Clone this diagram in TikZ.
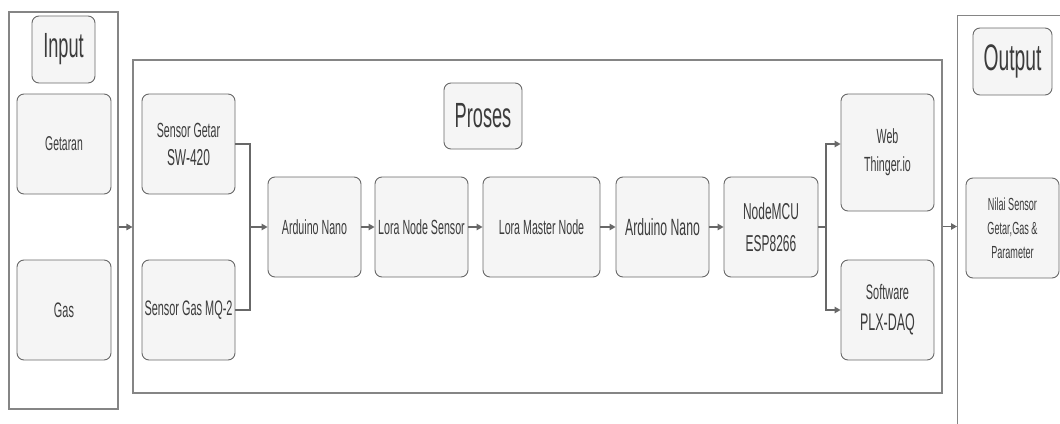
\documentclass[tikz,border=0pt]{standalone}
\usepackage{fontspec}
\setmainfont{Liberation Sans}[FakeStretch=0.52]
\usetikzlibrary{arrows.meta}
\definecolor{garis}{HTML}{686868}
\definecolor{wadahc}{HTML}{858585}
\definecolor{isi}{HTML}{F5F5F5}
\definecolor{teks}{HTML}{3C3C3C}
\newcommand{\uk}[2]{\fontsize{#1}{#2}\selectfont}

\begin{document}
\begin{tikzpicture}[x=1pt,y=-1pt,
    blok/.style={draw=garis,fill=isi,rounded corners=7pt,line width=0.9pt,
        minimum width=93pt,minimum height=100pt,align=center,text=teks,
        inner sep=1pt,font=\uk{20.5}{28}},
    judul/.style={blok,minimum width=63pt,minimum height=67pt,font=\uk{35}{40}},
    wadah/.style={draw=wadahc,line width=1.1pt,inner sep=0pt},
    garisb/.style={draw=garis,line width=1.1pt},
    arr/.style={garisb,-{Triangle[length=6pt,width=6.5pt]}}]
\useasboundingbox (0,0) rectangle (1060,423);

% kotak besar
\node[wadah,minimum width=109pt,minimum height=397pt] (masukan) at (63.5,210.5) {};
\node[wadah,minimum width=809pt,minimum height=333pt] (proses) at (537.5,226.5) {};
\node[wadah,minimum width=125pt,minimum height=430pt,anchor=north west] (keluaran) at (957,15) {};

% input
\node[judul] (jinput) at (63.5,49.5) {Input};
\node[blok,minimum width=94pt,font=\uk{20}{28}] (getaran) at (64,144) {Getaran};
\node[blok,minimum width=94pt,font=\uk{21}{28}] (gas) at (64,310) {Gas};

% proses
\node[judul,minimum width=78pt,minimum height=66pt] (jproses) at (483,116) {Proses};
\node[blok] (getar) at (188.5,144) {Sensor Getar\\{\fontsize{23}{28}\selectfont SW-420}};
\node[blok,font=\uk{21}{28}] (mq2) at (188.5,310) {Sensor Gas MQ-2};
\node[blok] (nano1) at (314.5,227) {Arduino Nano};
\node[blok] (lorans) at (421.5,227) {Lora Node Sensor};
\node[blok,minimum width=117pt] (loramn) at (541.5,227) {Lora Master Node};
\node[blok,font=\uk{23.5}{28}] (nano2) at (662.5,227) {Arduino Nano};
\node[blok,minimum width=94pt,font=\uk{23}{32}] (nodemcu) at (771,227) {NodeMCU\\ESP8266};
\node[blok,minimum height=117pt] (web) at (887.5,152.5) {Web\\Thinger.io};
\node[blok,font=\uk{21}{31}] (plx) at (887.5,310) {Software\\{\fontsize{24}{31}\selectfont PLX-DAQ}};

% output
\node[judul,minimum width=79pt,font=\uk{37}{40}] (joutput) at (1012.5,61.5) {Output};
\node[blok,font=\uk{17.5}{24}] (nilai) at (1012.5,228) {Nilai Sensor\\Getar,Gas \&\\Parameter};

% panah
\draw[arr] (masukan.east |- nano1) -- (proses.west |- nano1);
\coordinate (gabung) at (250,227);
\draw[garisb] (getar.east) -| (gabung) |- (mq2.east);
\draw[arr] (gabung) -- (nano1.west);
\foreach \a/\b in {nano1/lorans,lorans/loramn,loramn/nano2,nano2/nodemcu}
    \draw[arr] (\a) -- (\b);
\coordinate (cabang) at (826,227);
\draw[garisb] (nodemcu.east) -- (cabang);
\draw[arr] (cabang) |- (web.west |- getar.east);
\draw[arr] (cabang) |- (plx.west);
\draw[arr] (proses.east) -- (proses.east -| keluaran.west);
\end{tikzpicture}
\end{document}
